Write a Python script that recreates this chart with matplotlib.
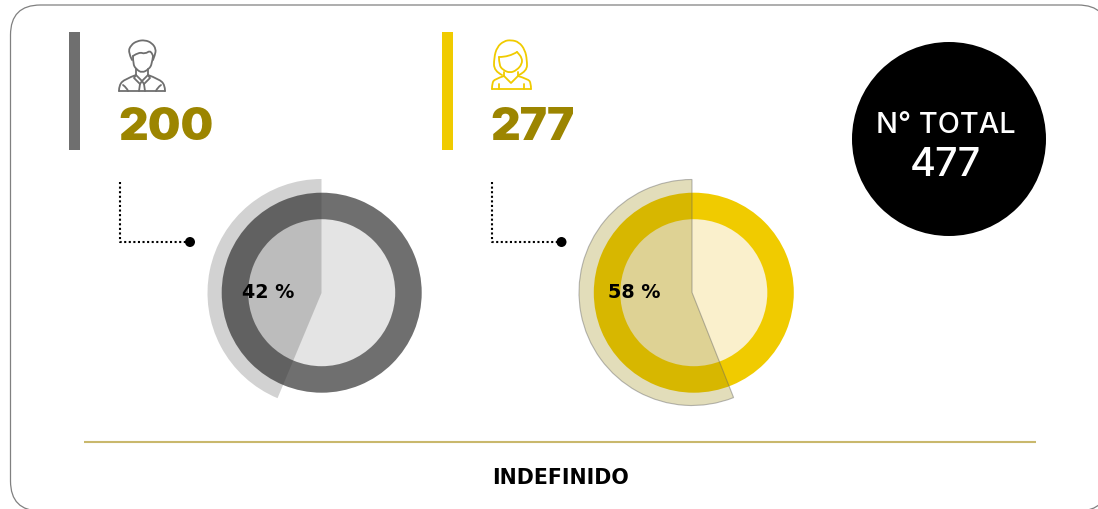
import matplotlib
matplotlib.use("Agg")
import matplotlib.pyplot as plt
from matplotlib.patches import Circle, FancyBboxPatch, PathPatch, Rectangle
from matplotlib.path import Path

# Values
groups = ["hombres", "mujeres"]
counts = [200, 277]
pct_labels = ["42 %", "58 %"]
wedge_pct = [43.7, 56.0]  # sweep as it is actually drawn
total_label = "N° TOTAL"
total = 477
footer = "INDEFINIDO"

W, H = 1098, 510
GREY, YELLOW = "#6f6f6f", "#f0cb00"
OLIVE = "#9c8500"
ring_colors = [GREY, YELLOW]
disk_colors = ["#e4e4e4", "#faf0cc"]
wedge_colors = [(50 / 255, 50 / 255, 50 / 255, 0.22), (148 / 255, 130 / 255, 0, 0.27)]
wedge_edges = ["none", (0.4, 0.4, 0.4, 0.45)]
ring_centers = [(321.7, 292.7), (693.8, 292.7)]
wedge_centers = [(321.5, 293), (692, 292.5)]
wedge_radius = [114, 113]
bar_x = [69, 442]
num_x = [118, 490]
corner_x = [119.5, 491.5]
dot_x = [190, 561.5]
label_x = [268, 634]

FONT = "Inter"


def Y(y):
    return H - y - 1


def smooth(ax, pts, color):
    # quadratic curve through the midpoints of the given pixel points
    pts = [(x, Y(y)) for x, y in pts]
    verts = [pts[0]]
    codes = [Path.MOVETO]
    for i in range(1, len(pts) - 1):
        mid = ((pts[i][0] + pts[i + 1][0]) / 2, (pts[i][1] + pts[i + 1][1]) / 2)
        if i == len(pts) - 2:
            mid = pts[-1]
        verts += [pts[i], mid]
        codes += [Path.CURVE3, Path.CURVE3]
    ax.add_patch(PathPatch(Path(verts, codes), fill=False, ec=color, lw=1.3, capstyle="round"))


def poly(ax, pts, color):
    xs = [p[0] for p in pts]
    ys = [Y(p[1]) for p in pts]
    ax.plot(xs, ys, color=color, lw=1.3, solid_joinstyle="round", solid_capstyle="round")


def man_icon(ax, c):
    smooth(ax, [(132, 60), (128, 52), (131, 45), (137, 41), (145, 40), (152, 43), (156, 49), (155, 55), (153, 60)], c)
    smooth(ax, [(133, 56), (139, 52), (145, 54), (151, 50), (153, 56)], c)
    smooth(ax, [(133, 56), (133, 64), (136, 69), (142, 73), (149, 69), (152, 64), (153, 56)], c)
    poly(ax, [(136, 69), (136, 75), (142, 81), (148, 75), (148, 69)], c)
    smooth(ax, [(136, 75), (125, 79), (119, 85), (119, 91)], c)
    smooth(ax, [(148, 75), (159, 79), (165, 85), (165, 91)], c)
    poly(ax, [(119, 91), (165, 91)], c)
    poly(ax, [(136, 75), (134, 78), (140, 84), (142, 81), (144, 84), (150, 78), (148, 75)], c)
    poly(ax, [(140, 84), (139, 91)], c)
    poly(ax, [(144, 84), (145, 91)], c)
    smooth(ax, [(123, 85), (127, 88), (128, 91)], c)
    smooth(ax, [(161, 85), (157, 88), (156, 91)], c)


def woman_icon(ax, c):
    smooth(ax, [(502, 75), (494, 71), (494, 58), (497, 47), (504, 41), (511, 40), (519, 42), (525, 50), (527, 60), (527, 71), (519, 75)], c)
    smooth(ax, [(499, 57), (499, 65), (503, 70), (510, 73), (517, 70), (522, 64), (522, 58), (518, 53), (517, 52)], c)
    smooth(ax, [(499, 57), (509, 57), (517, 52)], c)
    poly(ax, [(504, 72), (504, 76), (511, 83), (518, 76), (518, 72)], c)
    smooth(ax, [(504, 76), (495, 79), (492, 83), (492, 89)], c)
    smooth(ax, [(518, 76), (528, 79), (531, 83), (531, 89)], c)
    poly(ax, [(492, 89), (531, 89)], c)
    poly(ax, [(499, 84), (499, 89)], c)
    poly(ax, [(524, 84), (524, 89)], c)


fig = plt.figure(figsize=(W / 100, H / 100), dpi=100)
ax = fig.add_axes([0, 0, 1, 1])

# rounded frame, runs off the right and bottom edges
ax.add_patch(FancyBboxPatch((10.5, Y(511)), 1097.5, 506, boxstyle="round,pad=0,rounding_size=30",
                            fc="white", ec="#808080", lw=0.9))

for i in range(len(groups)):
    ax.add_patch(Rectangle((bar_x[i], Y(150)), 11, 118, fc=ring_colors[i], ec="none"))
    ax.text(num_x[i], Y(139), str(counts[i]), color=OLIVE, fontsize=33, family=FONT, weight=900,
            ha="left", va="baseline")

    # dotted connector
    ax.plot([corner_x[i], corner_x[i], dot_x[i]], [Y(182), Y(242), Y(242)], color="black", lw=1.5,
            linestyle=(0, (1, 1.2)))
    ax.add_patch(Circle((dot_x[i], Y(242)), 5, fc="black", ec="none", zorder=3))

    # ring with light disk
    cx, cy = ring_centers[i]
    ax.add_patch(Circle((cx, Y(cy)), 74, fc=disk_colors[i], ec="none", zorder=1))
    ax.pie([100], radius=100, center=(cx, Y(cy)), colors=[ring_colors[i]], frame=True,
           wedgeprops=dict(width=26.5, ec="none", zorder=1.5))

    # translucent share wedge on top
    wx, wy = wedge_centers[i]
    w = wedge_pct[i]
    wedges, _ = ax.pie([w, 100 - w], radius=wedge_radius[i], center=(wx, Y(wy)), startangle=90, frame=True,
                       colors=[wedge_colors[i], (1, 1, 1, 0)],
                       wedgeprops=dict(zorder=2, lw=0.8))
    wedges[0].set_edgecolor(wedge_edges[i])
    wedges[1].set_edgecolor("none")

    ax.text(label_x[i], Y(297), pct_labels[i], fontsize=13.8, family="DejaVu Sans", weight="bold",
            ha="center", va="baseline", zorder=4)

man_icon(ax, GREY)
woman_icon(ax, YELLOW)

# total badge
ax.add_patch(Circle((949, Y(139)), 97, fc="black", ec="none"))
ax.text(945.5, Y(132), total_label, color="white", fontsize=20.8, family=FONT, weight=500, ha="center", va="baseline")
ax.text(945.5, Y(175), str(total), color="white", fontsize=28.5, family=FONT, weight=500, ha="center", va="baseline")

# footer
ax.plot([84, 1036], [Y(442), Y(442)], color="#c9b86c", lw=1.5, solid_capstyle="butt")
ax.text(560, Y(483), footer, fontsize=14.8, family="DejaVu Sans", weight="bold", ha="center", va="baseline")

ax.set_xlim(0, W)
ax.set_ylim(0, H)
ax.set_aspect("auto")
ax.axis("off")

fig.savefig("out.png", dpi=100, facecolor="white")
